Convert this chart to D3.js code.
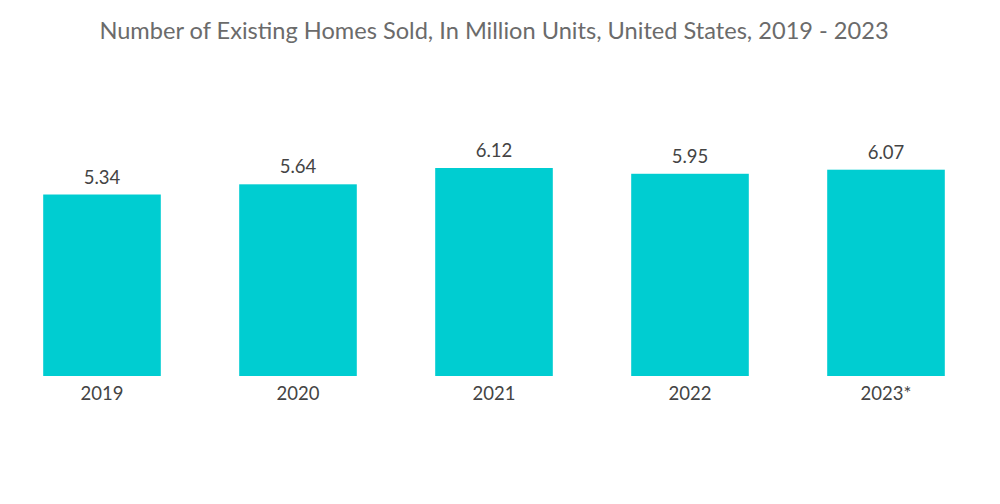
<!DOCTYPE html>
<html>
<head>
<meta charset="utf-8">
<script src="https://cdn.jsdelivr.net/npm/d3@7"></script>
<style>
  body { margin: 0; background: #fff; }
  svg { display: block; font-family: Lato, "Open Sans", sans-serif; }
</style>
</head>
<body>
<svg id="chart" width="1000" height="504"></svg>
<script>
// data
var years = ["2019", "2020", "2021", "2022", "2023*"];
var sales = [5.34, 5.64, 6.12, 5.95, 6.07];

var svg = d3.select("#chart");

var x = d3.scaleBand()
    .domain(years)
    .range([4, 984])
    .paddingInner(0.4)
    .paddingOuter(0.2);

var y = d3.scaleLinear()
    .domain([0, 6.12])
    .range([376, 168]);

// title
svg.append("text")
    .attr("x", 494)
    .attr("y", 39)
    .attr("text-anchor", "middle")
    .attr("fill", "#6b6b6b")
    .style("font-size", "23.6px")
    .text("Number of Existing Homes Sold, In Million Units, United States, 2019 - 2023");

// bars
svg.selectAll(".bar")
    .data(years)
    .enter().append("rect")
    .attr("class", "bar")
    .attr("x", function (d) { return x(d); })
    .attr("width", x.bandwidth())
    .attr("y", function (d, i) { return y(sales[i]); })
    .attr("height", function (d, i) { return y(0) - y(sales[i]); })
    .attr("fill", "#00cdd1");

// value labels
svg.selectAll(".val")
    .data(years)
    .enter().append("text")
    .attr("class", "val")
    .attr("x", function (d) { return x(d) + x.bandwidth() / 2; })
    .attr("y", function (d, i) { return y(sales[i]) - 11; })
    .attr("text-anchor", "middle")
    .attr("fill", "#444")
    .style("font-size", "18.5px")
    .text(function (d, i) { return sales[i].toFixed(2); });

// x axis
var xAxis = svg.append("g")
    .attr("transform", "translate(0," + y(0) + ")")
    .call(d3.axisBottom(x).tickSize(0).tickPadding(11));
xAxis.select(".domain").remove();
xAxis.selectAll("text")
    .attr("fill", "#444")
    .style("font-size", "18.5px")
    .style("font-family", "Lato, 'Open Sans', sans-serif");
</script>
</body>
</html>
